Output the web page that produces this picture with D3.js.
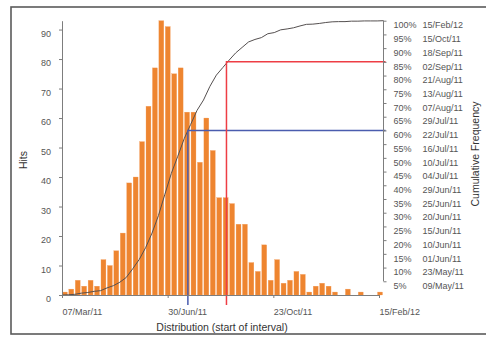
<!DOCTYPE html>
<html><head><meta charset="utf-8">
<script src="https://cdn.jsdelivr.net/npm/d3@7"></script>
<style>
html,body{margin:0;padding:0;background:#fff;}
svg{display:block;font-family:"Liberation Sans",Arial,Helvetica,sans-serif;}
</style></head>
<body><svg id="c" width="486" height="340"></svg>
<script>
// ---- data ----
const binStarts = ["2011-03-07","2011-03-14","2011-03-21","2011-03-28","2011-04-04","2011-04-11","2011-04-18","2011-04-25","2011-05-02","2011-05-09",
"2011-05-16","2011-05-23","2011-05-30","2011-06-06","2011-06-13","2011-06-20","2011-06-27","2011-07-04","2011-07-11","2011-07-18",
"2011-07-25","2011-08-01","2011-08-08","2011-08-15","2011-08-22","2011-08-29","2011-09-05","2011-09-12","2011-09-19","2011-09-26",
"2011-10-03","2011-10-10","2011-10-17","2011-10-24","2011-10-31","2011-11-07","2011-11-14","2011-11-21","2011-11-28","2011-12-05",
"2011-12-12","2011-12-19","2011-12-26","2012-01-02","2012-01-09","2012-01-16","2012-01-23","2012-01-30","2012-02-06","2012-02-13"];
const hits = [1,2,5,3,5,3,12,10,15,21,
38,40,52,64,77,93,91,75,77,62,
62,45,60,49,33,33,31,24,24,11,
8,17,5,12,4,5,8,7,1,3,
4,3,1,0,2,0,1,0,0,1];
const binDays = 7;
const xTickDates = ["2011-03-07","2011-06-30","2011-10-23","2012-02-15"];
const xTickLabels = ["07/Mar/11","30/Jun/11","23/Oct/11","15/Feb/12"];
const hitTicks = [0,10,20,30,40,50,60,70,80,90];
const pctTicks = [5,10,15,20,25,30,35,40,45,50,55,60,65,70,75,80,85,90,95,100];
const pctDates = ["09/May/11","23/May/11","01/Jun/11","10/Jun/11","15/Jun/11","20/Jun/11","25/Jun/11","29/Jun/11","04/Jul/11","10/Jul/11",
"16/Jul/11","22/Jul/11","29/Jul/11","07/Aug/11","13/Aug/11","21/Aug/11","02/Sep/11","18/Sep/11","15/Oct/11","15/Feb/12"];
const refPct = [60, 85];
const refDates = ["2011-07-22","2011-09-02"];
const refColors = ["#4a5cae","#ee3d44"];

// ---- layout ----
const parse = d3.utcParse("%Y-%m-%d");
const svg = d3.select("#c");
const x0 = 62, x1 = 379, yBase = 295, yTop = 20.7, xRight = 383.5;

svg.append("rect").attr("x",11).attr("y",7).attr("width",490).attr("height",327)
  .attr("fill","#fff").attr("stroke","#5a5a5a").attr("stroke-width",1.6);

const x = d3.scaleUtc().domain([parse(xTickDates[0]), parse(xTickDates[3])]).range([x0, x1]);
const y = d3.scaleLinear().domain([0, 93]).range([yBase, yTop]);
const yp = d3.scaleLinear().domain([0, 100]).range([yBase, yTop]);

const bins = binStarts.map((s,i)=>({d:parse(s), v:hits[i]}));
const total = d3.sum(hits);

// bars
const barW = x(d3.utcDay.offset(bins[0].d, binDays)) - x(bins[0].d);
svg.append("g").selectAll("rect").data(bins).join("rect")
  .attr("x", d=>x(d.d)+0.4)
  .attr("width", barW-1.5)
  .attr("y", d=>y(d.v))
  .attr("height", d=>yBase - y(d.v))
  .attr("fill","#ee8530")
  .attr("stroke","#f3a060").attr("stroke-width",0.3);

// cumulative line
let c = 0;
const cumPts = [{d:bins[0].d, p:0}];
bins.forEach(b=>{ c += b.v; cumPts.push({d:d3.utcDay.offset(b.d, binDays), p:c/total*100}); });
svg.append("path").datum(cumPts)
  .attr("d", d3.line().x(d=>x(d.d)).y(d=>yp(d.p)))
  .attr("fill","none").attr("stroke","#555050").attr("stroke-width",1);

// reference lines
refPct.forEach((p,i)=>{
  const xx = x(parse(refDates[i])), yy = yp(p);
  svg.append("path").attr("d", `M${xRight+2},${yy}H${xx}V${yBase+10}`)
    .attr("fill","none").attr("stroke",refColors[i]).attr("stroke-width",1.5);
});

const axisColor = "#7d7d7d", tickText = "#555";

// left axis
const gL = svg.append("g").attr("transform",`translate(${x0},0)`)
  .call(d3.axisLeft(y).tickValues(hitTicks).tickSize(3).tickSizeOuter(0).tickFormat(d3.format("d")));
gL.select(".domain").attr("stroke",axisColor);
gL.selectAll(".tick line").attr("stroke",axisColor);
gL.selectAll(".tick text").attr("x",-11).attr("dy","0.75em").attr("fill",tickText).attr("font-size",9).attr("font-family",null);

// bottom axis
const gB = svg.append("g").attr("transform",`translate(0,${yBase})`)
  .call(d3.axisBottom(x).tickValues(xTickDates.map(parse)).tickSize(3).tickSizeOuter(0)
    .tickFormat((d,i)=>xTickLabels[i]));
gB.select(".domain").attr("stroke",axisColor);
gB.selectAll(".tick line").attr("stroke",axisColor);
gB.selectAll(".tick text").attr("text-anchor","start").attr("y",17).attr("dy","0.35em")
  .attr("fill",tickText).attr("font-size",9).attr("font-family",null);

// right axis
const gR = svg.append("g").attr("transform",`translate(${xRight},0)`)
  .call(d3.axisRight(yp).tickValues(pctTicks).tickSize(3).tickSizeOuter(0).tickFormat(d=>d+"%"));
gR.select(".domain").attr("stroke",axisColor).attr("d",`M0,${yp(5)}V${yp(100)}`);
gR.selectAll(".tick line").attr("stroke",axisColor);
gR.selectAll(".tick text").attr("x",10).attr("dy","0.8em").attr("fill",tickText).attr("font-size",9).attr("font-family",null);
gR.selectAll(".tick").append("text").text((d,i)=>pctDates[i])
  .attr("x",39).attr("dy","0.8em").attr("fill",tickText).attr("font-size",9).attr("text-anchor","start");

// titles
svg.append("text").text("Distribution (start of interval)")
  .attr("x",222).attr("y",327).attr("dy","0.35em").attr("text-anchor","middle")
  .attr("font-size",10.5).attr("fill","#333");
svg.append("text").text("Hits")
  .attr("transform","translate(23,160) rotate(-90)").attr("dy","0.35em").attr("text-anchor","middle")
  .attr("font-size",10.5).attr("fill","#333");
svg.append("text").text("Cumulative Frequency")
  .attr("transform","translate(475,154) rotate(-90)").attr("dy","0.35em").attr("text-anchor","middle")
  .attr("font-size",10.5).attr("fill","#333");
</script></body></html>
